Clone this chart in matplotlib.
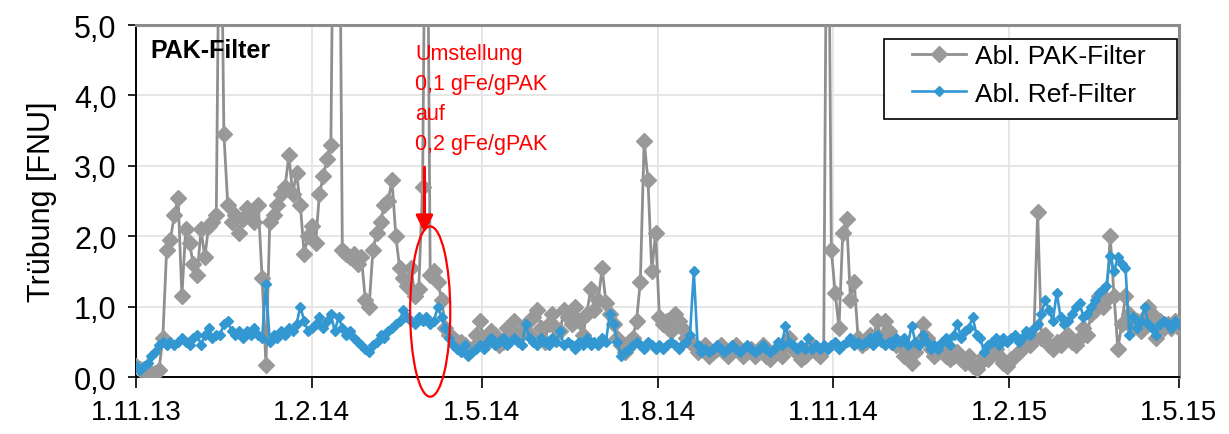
import matplotlib
matplotlib.use("Agg")
import matplotlib.pyplot as plt
import matplotlib.dates as mdates
from matplotlib.patches import Ellipse, Rectangle
import numpy as np
import pandas as pd

plt.rcParams['font.family'] = ['Liberation Sans', 'DejaVu Sans']

# ---------------- data (values every 2 days from 1.11.2013) ----------------
start_date = "2013-11-01"
step_days = 2

pak_filter = [
    0.15, 0.12, 0.08, 0.05, 0.06, 0.05, 0.10, 0.55, 1.80, 1.95,
    2.30, 2.55, 1.15, 2.10, 1.90, 1.60, 1.45, 2.10, 1.70, 2.15,
    2.20, 2.30, 8.00, 3.45, 2.45, 2.20, 2.30, 2.05, 2.25, 2.40,
    2.30, 2.20, 2.45, 1.40, 0.17, 2.20, 2.30, 2.45, 2.60, 2.70,
    3.15, 2.60, 2.90, 2.45, 1.75, 2.00, 2.15, 1.90, 2.60, 2.85,
    3.10, 3.30, 9.00, 9.00, 1.80, 1.75, 1.70, 1.75, 1.60, 1.70,
    1.10, 1.00, 1.80, 2.05, 2.20, 2.45, 2.50, 2.80, 2.00, 1.55,
    1.40, 1.30, 1.55, 1.15, 1.25, 2.70, 9.00, 1.45, 1.50, 1.35,
    1.10, 0.70, 0.60, 0.55, 0.50, 0.50, 0.45, 0.35, 0.40, 0.60,
    0.80, 0.55, 0.50, 0.65, 0.60, 0.45, 0.50, 0.70, 0.60, 0.80,
    0.55, 0.65, 0.75, 0.60, 0.85, 0.95, 0.70, 0.50, 0.75, 0.90,
    0.70, 0.65, 0.95, 0.85, 0.75, 1.00, 0.80, 0.60, 0.90, 1.25,
    0.95, 1.10, 1.55, 1.05, 0.90, 0.75, 0.55, 0.45, 0.35, 0.50,
    0.55, 0.80, 1.35, 3.35, 2.80, 1.50, 2.05, 0.85, 0.75, 0.80,
    0.65, 0.90, 0.80, 0.70, 0.55, 0.50, 0.45, 0.35, 0.40, 0.45,
    0.30, 0.35, 0.40, 0.45, 0.35, 0.30, 0.40, 0.45, 0.35, 0.30,
    0.35, 0.40, 0.30, 0.35, 0.45, 0.30, 0.25, 0.35, 0.40, 0.30,
    0.45, 0.55, 0.40, 0.35, 0.25, 0.30, 0.40, 0.45, 0.35, 0.30,
    0.40, 9.00, 1.80, 1.20, 0.70, 2.05, 2.25, 1.10, 1.35, 0.55,
    0.45, 0.50, 0.60, 0.55, 0.80, 0.55, 0.80, 0.65, 0.50, 0.45,
    0.45, 0.30, 0.40, 0.20, 0.35, 0.50, 0.75, 0.55, 0.40, 0.30,
    0.35, 0.40, 0.30, 0.25, 0.30, 0.35, 0.25, 0.20, 0.30, 0.15,
    0.12, 0.20, 0.30, 0.25, 0.35, 0.40, 0.30, 0.20, 0.15, 0.25,
    0.30, 0.35, 0.40, 0.50, 0.45, 0.55, 2.35, 0.55, 0.60, 0.45,
    0.40, 0.50, 0.45, 0.55, 0.60, 0.50, 0.45, 0.55, 0.70, 0.60,
    0.90, 0.95, 1.15, 1.00, 1.10, 2.00, 1.15, 0.40, 0.75, 1.15,
    0.90, 0.70, 0.80, 0.65, 0.85, 1.00, 0.90, 0.55, 0.80, 0.70,
    0.75, 0.70, 0.80, 0.70,
]

ref_filter = [
    0.15, 0.10, 0.15, 0.20, 0.30, 0.35, 0.45, 0.50, 0.45, 0.50,
    0.45, 0.50, 0.55, 0.50, 0.45, 0.55, 0.60, 0.45, 0.60, 0.70,
    0.55, 0.60, 0.60, 0.75, 0.80, 0.65, 0.60, 0.65, 0.55, 0.65,
    0.60, 0.70, 0.60, 0.55, 1.32, 0.50, 0.60, 0.55, 0.65, 0.60,
    0.70, 0.65, 0.75, 1.00, 0.80, 0.65, 0.70, 0.75, 0.85, 0.70,
    0.80, 0.90, 0.65, 0.85, 0.70, 0.60, 0.65, 0.55, 0.50, 0.45,
    0.40, 0.35, 0.45, 0.50, 0.60, 0.55, 0.65, 0.70, 0.75, 0.80,
    0.95, 0.85, 0.80, 0.75, 0.85, 0.80, 0.85, 0.75, 0.80, 1.00,
    0.85, 0.70, 0.55, 0.45, 0.40, 0.35, 0.45, 0.30, 0.35, 0.40,
    0.45, 0.40, 0.50, 0.55, 0.45, 0.50, 0.55, 0.45, 0.50, 0.55,
    0.50, 0.45, 0.75, 0.55, 0.50, 0.45, 0.55, 0.50, 0.45, 0.55,
    0.50, 0.65, 0.45, 0.50, 0.45, 0.40, 0.50, 0.45, 0.55, 0.45,
    0.50, 0.45, 0.55, 0.50, 0.90, 0.75, 0.50, 0.30, 0.35, 0.40,
    0.45, 0.50, 0.45, 0.40, 0.50, 0.45, 0.40, 0.45, 0.40, 0.45,
    0.50, 0.45, 0.40, 0.45, 0.50, 0.60, 1.50, 0.45, 0.35, 0.40,
    0.35, 0.40, 0.45, 0.40, 0.35, 0.40, 0.45, 0.40, 0.35, 0.40,
    0.45, 0.40, 0.35, 0.40, 0.45, 0.40, 0.35, 0.40, 0.50, 0.45,
    0.73, 0.50, 0.45, 0.40, 0.45, 0.40, 0.55, 0.40, 0.45, 0.40,
    0.45, 0.40, 0.45, 0.50, 0.40, 0.45, 0.50, 0.55, 0.45, 0.50,
    0.45, 0.50, 0.55, 0.45, 0.60, 0.50, 0.45, 0.50, 0.45, 0.55,
    0.50, 0.55, 0.45, 0.73, 0.50, 0.45, 0.60, 0.50, 0.40, 0.45,
    0.40, 0.50, 0.55, 0.45, 0.60, 0.75, 0.55, 0.65, 0.70, 0.85,
    0.60, 0.55, 0.35, 0.45, 0.50, 0.55, 0.45, 0.55, 0.50, 0.55,
    0.60, 0.50, 0.55, 0.65, 0.60, 0.70, 0.75, 0.90, 1.10, 0.95,
    0.80, 1.20, 0.85, 0.75, 0.80, 0.90, 1.00, 1.05, 0.85, 0.90,
    1.00, 1.10, 1.20, 1.25, 1.30, 1.72, 1.50, 1.70, 1.60, 1.55,
    0.60, 0.85, 0.70, 0.80, 1.00, 0.75, 0.70, 0.60, 0.75, 0.80,
    0.75, 0.70, 0.80, 0.75,
]

tick_dates = ["2013-11-01", "2014-02-01", "2014-05-01", "2014-08-01",
              "2014-11-01", "2015-02-01", "2015-05-01"]
tick_labels = ["1.11.13", "1.2.14", "1.5.14", "1.8.14", "1.11.14", "1.2.15", "1.5.15"]
y_ticks = [0, 1, 2, 3, 4, 5]
y_tick_labels = ["0,0", "1,0", "2,0", "3,0", "4,0", "5,0"]
series_names = ["Abl. PAK-Filter", "Abl. Ref-Filter"]
note_text = "Umstellung\n0,1 gFe/gPAK\nauf\n0,2 gFe/gPAK"
note_date = "2014-03-27"
change_date = "2014-04-01"

# ---------------- plot ----------------
dates_pak = pd.date_range(start_date, periods=len(pak_filter), freq=f"{step_days}D")
dates_ref = pd.date_range(start_date, periods=len(ref_filter), freq=f"{step_days}D")

fig = plt.figure(figsize=(12.29, 4.35), dpi=100)
ax = fig.add_axes([0.1107, 0.131, 0.8486, 0.809])

gray = "#8f8f8f"
gray_m = "#999999"
blue = "#3398d2"

ax.plot(dates_pak, pak_filter, color=gray, lw=2.0, marker="D", ms=8.3,
        mfc=gray_m, mec=gray_m, label=series_names[0], zorder=3)
ax.plot(dates_ref, ref_filter, color=blue, lw=1.9, marker="D", ms=5.6,
        mfc=blue, mec=blue, label=series_names[1], zorder=4)

ax.set_xlim(pd.Timestamp(tick_dates[0]), pd.Timestamp(tick_dates[-1]))
ax.set_ylim(0, 5)
ax.set_xticks([pd.Timestamp(d) for d in tick_dates])
ax.set_xticklabels(tick_labels, fontsize=20)
ax.set_yticks(y_ticks)
ax.set_yticklabels(y_tick_labels, fontsize=22)
ax.tick_params(axis="x", direction="out", length=8, width=1.2, pad=8, color="black")
ax.tick_params(axis="y", direction="out", length=6, width=1.2, pad=8, color="black")
ax.set_ylabel("Trübung [FNU]", fontsize=22, labelpad=12)

ax.grid(True, color="#e4e4e4", lw=1.3, zorder=0)
ax.set_axisbelow(True)
for s in ["left", "bottom"]:
    ax.spines[s].set_color("black")
    ax.spines[s].set_linewidth(1.4)
for s in ["top", "right"]:
    ax.spines[s].set_color("#8c8c8c")
    ax.spines[s].set_linewidth(2.2)

ax.text(0.014, 0.93, "PAK-Filter", transform=ax.transAxes, fontsize=18,
        fontweight="bold", ha="left", va="center")

# legend box (white, black frame) and legend entries
box = Rectangle((0.717, 0.733), 0.281, 0.227, transform=ax.transAxes,
                facecolor="white", edgecolor="black", lw=1.2, zorder=7)
ax.add_patch(box)
leg = ax.legend(loc="upper left", bbox_to_anchor=(0.744, 0.945), borderaxespad=0,
                fontsize=19, frameon=False, handlelength=2.05, handletextpad=0.35,
                labelspacing=0.5, borderpad=0)
leg.set_zorder(8)

# annotation
ax.text(pd.Timestamp(note_date), 4.74, note_text, color="red", fontsize=15.5,
        ha="left", va="top", linespacing=1.55, zorder=5)
cd = pd.Timestamp(change_date)
ax.annotate("", xy=(cd, 2.05), xytext=(cd, 2.98),
            arrowprops=dict(arrowstyle="-|>", color="red", lw=2.2,
                            mutation_scale=26, shrinkA=0, shrinkB=0), zorder=6)
ell = Ellipse((mdates.date2num(pd.Timestamp("2014-04-03")) + 1.0, 0.93), width=21, height=2.42,
              fill=False, edgecolor="red", lw=1.6, clip_on=False, zorder=6)
ax.add_patch(ell)

fig.savefig("out.png", dpi=100)
